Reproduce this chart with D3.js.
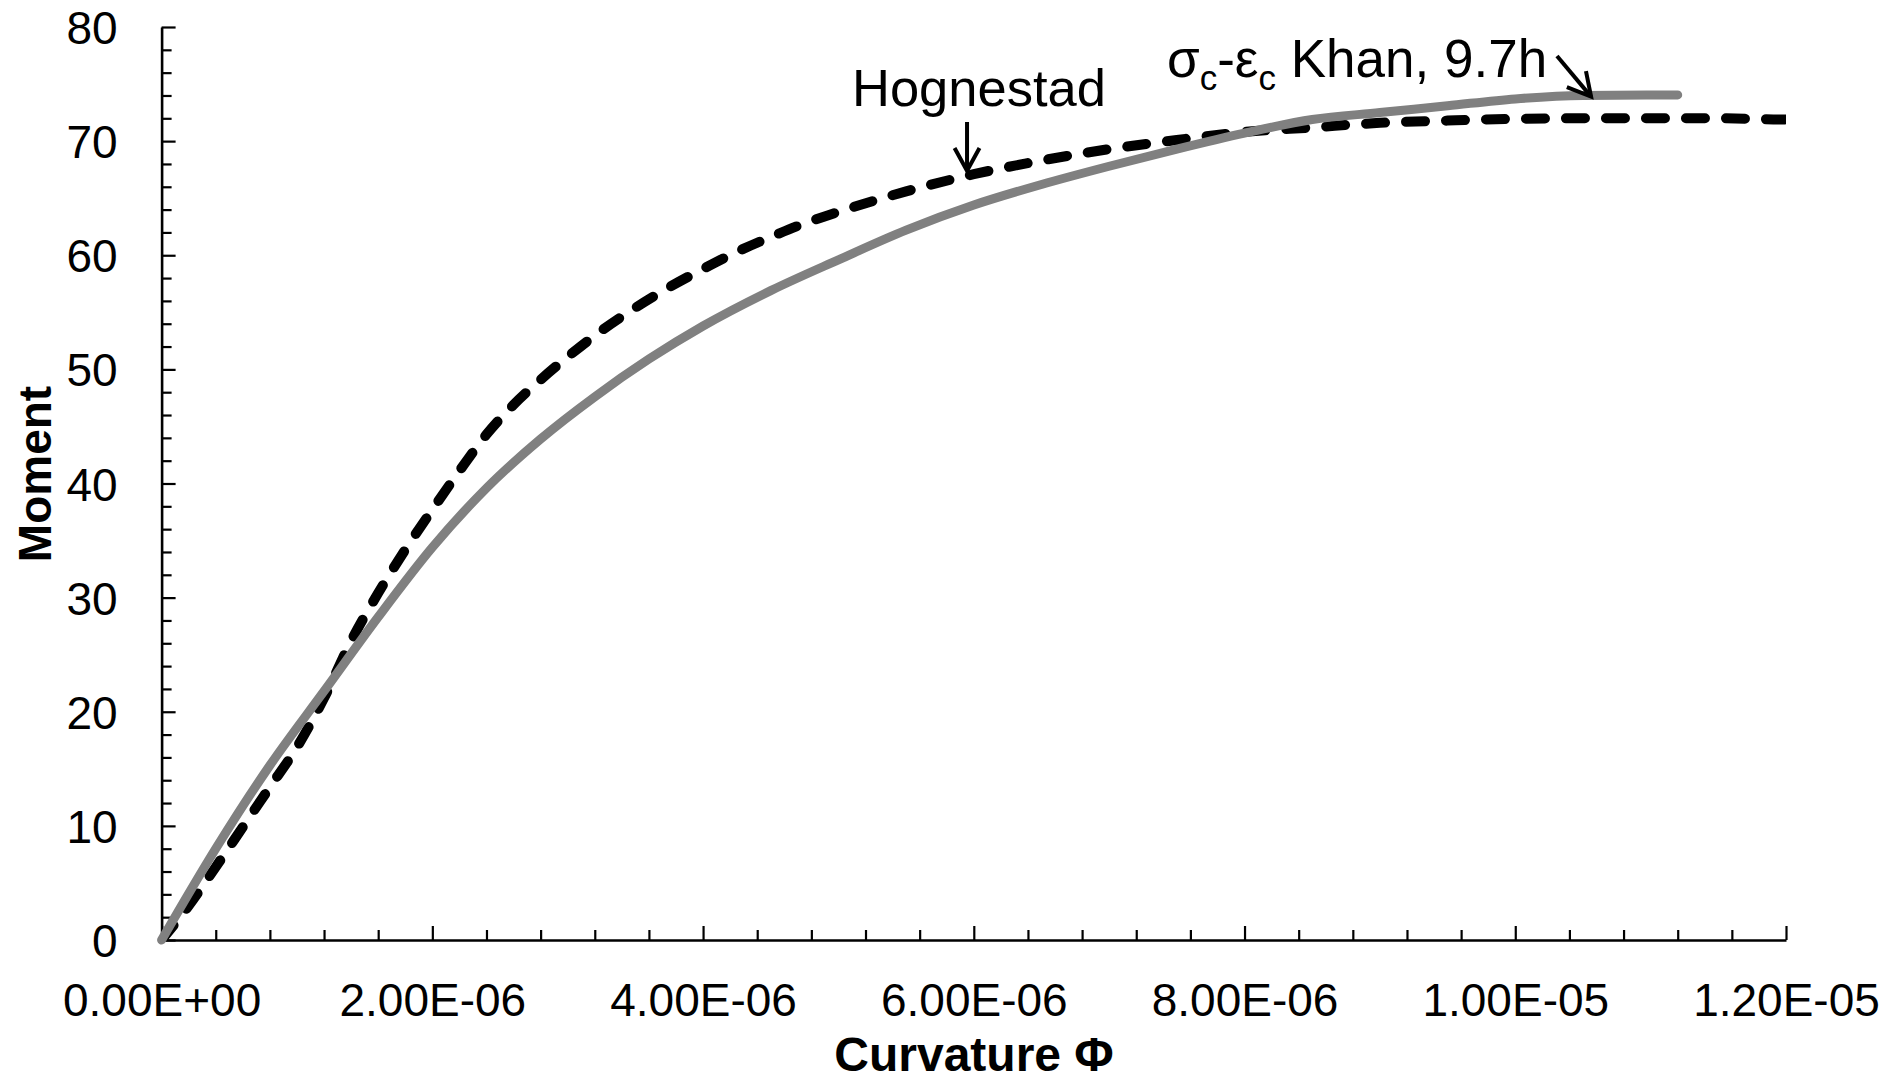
<!DOCTYPE html>
<html>
<head>
<meta charset="utf-8">
<script src="https://cdn.jsdelivr.net/npm/d3@7"></script>
<style>
  html, body { margin: 0; padding: 0; background: #fff; }
  svg { display: block; }
  text { font-family: "Liberation Sans", Arial, sans-serif; fill: #000; }
</style>
</head>
<body>
<svg id="chart" width="1891" height="1081"></svg>
<script>
// Moment–curvature response, curvature in units of 1e-6
const khanCurvature = [0, 0.4, 0.8, 1.2, 1.6, 2.0, 2.4, 2.8, 3.2, 3.6, 4.0, 4.5, 5.0, 5.5, 6.0, 6.5, 7.0, 7.5, 8.0, 8.5, 9.0, 9.5, 10.0, 10.5, 11.2];
const khanMoment    = [0, 8.0, 15.3, 21.8, 28.3, 34.4, 39.6, 43.9, 47.6, 50.9, 53.8, 56.9, 59.6, 62.2, 64.4, 66.2, 67.8, 69.3, 70.7, 71.9, 72.5, 73.1, 73.7, 74.0, 74.05];

const hognestadCurvature = [0, 0.2, 0.4, 0.6, 0.8, 1.0, 1.2, 1.4, 1.6, 1.8, 2.0, 2.2, 2.4, 2.6, 2.8, 3.0, 3.25, 3.5, 3.75, 4.0, 4.25, 4.5, 4.75, 5.0, 5.5, 6.0, 6.5, 7.0, 7.5, 8.0, 8.5, 9.0, 9.5, 10.0, 10.5, 11.0, 11.5, 12.0, 12.3];
const hognestadMoment    = [0, 3.0, 6.4, 9.9, 13.4, 16.9, 21.2, 26.2, 30.4, 34.2, 37.7, 41.1, 44.3, 46.9, 49.1, 51.1, 53.4, 55.4, 57.2, 58.8, 60.3, 61.6, 62.8, 63.8, 65.6, 67.1, 68.3, 69.3, 70.1, 70.8, 71.2, 71.6, 71.8, 71.95, 72.0, 72.0, 72.0, 71.9, 71.9];

const xMajorTicks = [0, 2, 4, 6, 8, 10, 12];
const xTickLabels = ["0.00E+00", "2.00E-06", "4.00E-06", "6.00E-06", "8.00E-06", "1.00E-05", "1.20E-05"];
const yMajorTicks = [0, 10, 20, 30, 40, 50, 60, 70, 80];

const xTitle = "Curvature \u03A6";
const yTitle = "Moment";

const svg = d3.select("#chart");
const W = 1891, H = 1081;
const plot = { left: 161.6, right: 1786, top: 27, bottom: 940 };

svg.append("rect").attr("width", W).attr("height", H).attr("fill", "#fff");

const x = d3.scaleLinear().domain([0, 12]).range([plot.left, plot.right]);
const y = d3.scaleLinear().domain([0, 80]).range([plot.bottom, plot.top]);

// minor ticks
const xMinor = d3.range(0, 12.0001, 0.4).filter(v => Math.abs(v / 2 - Math.round(v / 2)) > 1e-6);
const yMinor = d3.range(0, 80.0001, 2).filter(v => v % 10 !== 0);

const gx = svg.append("g").attr("transform", `translate(0,${plot.bottom})`);
gx.call(d3.axisBottom(x).tickValues(xMinor).tickSizeInner(-10).tickSizeOuter(0).tickFormat(""));
gx.call(g => g.select(".domain").remove());
const gxMajor = svg.append("g").attr("transform", `translate(0,${plot.bottom})`);
gxMajor.call(d3.axisBottom(x).tickValues(xMajorTicks).tickSizeInner(-14).tickSizeOuter(0)
  .tickPadding(43).tickFormat((d, i) => xTickLabels[i]));

const gy = svg.append("g").attr("transform", `translate(${plot.left},0)`);
gy.call(d3.axisLeft(y).tickValues(yMinor).tickSizeInner(-10).tickSizeOuter(0).tickFormat(""));
gy.call(g => g.select(".domain").remove());
const gyMajor = svg.append("g").attr("transform", `translate(${plot.left},0)`);
gyMajor.call(d3.axisLeft(y).tickValues(yMajorTicks).tickSizeInner(-14).tickSizeOuter(0)
  .tickPadding(44).tickFormat(d3.format("d")));

svg.selectAll(".tick line").attr("stroke", "#000").attr("stroke-width", 2.2);
svg.selectAll(".domain").attr("stroke", "#000").attr("stroke-width", 2.6);
gxMajor.selectAll(".tick text").attr("font-size", 46).attr("font-family", "Liberation Sans, Arial, sans-serif");
gyMajor.selectAll(".tick text").attr("font-size", 46).attr("font-family", "Liberation Sans, Arial, sans-serif").attr("dy", "0.36em");

// clip to plotting region
svg.append("clipPath").attr("id", "plotClip")
  .append("rect").attr("x", plot.left).attr("y", 0)
  .attr("width", plot.right - plot.left).attr("height", plot.bottom);

const line = d3.line().x(d => x(d[0])).y(d => y(d[1])).curve(d3.curveMonotoneX);

const hognestad = hognestadCurvature.map((c, i) => [c, hognestadMoment[i]]);
const khan = khanCurvature.map((c, i) => [c, khanMoment[i]]);

svg.append("path").datum(hognestad)
  .attr("clip-path", "url(#plotClip)")
  .attr("d", line).attr("fill", "none")
  .attr("stroke", "#000").attr("stroke-width", 10)
  .attr("stroke-dasharray", "19,21").attr("stroke-linecap", "round");

svg.append("path").datum(khan)
  .attr("d", line).attr("fill", "none")
  .attr("stroke", "#808080").attr("stroke-width", 9)
  .attr("stroke-linecap", "round").attr("stroke-linejoin", "round");

// axis titles
svg.append("text").attr("x", 974).attr("y", 1071)
  .attr("text-anchor", "middle").attr("font-size", 48).attr("font-weight", "bold")
  .text(xTitle);
svg.append("text").attr("transform", "translate(51,474) rotate(-90)")
  .attr("text-anchor", "middle").attr("font-size", 46).attr("font-weight", "bold")
  .text(yTitle);

// series annotations
function arrow(x1, y1, x2, y2) {
  const ang = Math.atan2(y2 - y1, x2 - x1);
  const len = 26, spread = 0.5;
  const g = svg.append("g").attr("stroke", "#000").attr("stroke-width", 4)
    .attr("fill", "none").attr("stroke-linecap", "butt").attr("stroke-linejoin", "miter");
  g.append("line").attr("x1", x1).attr("y1", y1).attr("x2", x2).attr("y2", y2);
  g.append("path").attr("d",
    `M${x2 - len * Math.cos(ang - spread)},${y2 - len * Math.sin(ang - spread)}` +
    `L${x2},${y2}` +
    `L${x2 - len * Math.cos(ang + spread)},${y2 - len * Math.sin(ang + spread)}`);
}

svg.append("text").attr("x", 852).attr("y", 106).attr("font-size", 52.5).text("Hognestad");
arrow(x(5.95), 122, x(5.95), y(67.4));

const khanLabel = svg.append("text").attr("x", 1167).attr("y", 77).attr("font-size", 53);
khanLabel.append("tspan").text("\u03C3");
khanLabel.append("tspan").attr("font-size", 35).attr("dy", 13).text("c");
khanLabel.append("tspan").attr("dy", -13).text("-\u03B5");
khanLabel.append("tspan").attr("font-size", 35).attr("dy", 13).text("c");
khanLabel.append("tspan").attr("dy", -13).text(" Khan, 9.7h");
arrow(1557, 56, x(10.56), y(73.9));
</script>
</body>
</html>
